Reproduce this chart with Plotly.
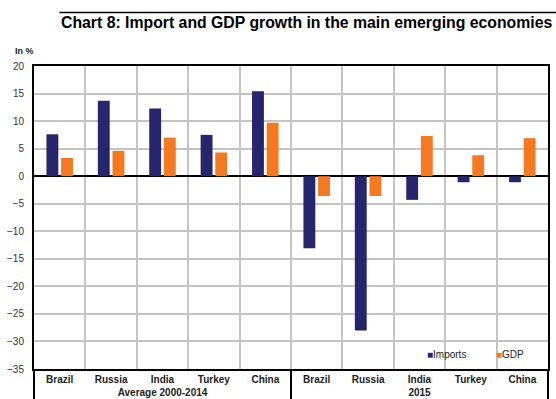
import plotly.graph_objects as go

# Period groups and economies on the category axis
periods = ["Average 2000-2014"] * 5 + ["2015"] * 5
countries = ["Brazil", "Russia", "India", "Turkey", "China"] * 2

# Growth rates, in %
imports = [7.6, 13.7, 12.3, 7.5, 15.4, -13.1, -28.0, -4.3, -1.1, -1.1]
gdp = [3.3, 4.6, 7.0, 4.3, 9.7, -3.6, -3.6, 7.3, 3.8, 6.9]

NAVY = "#25266E"
ORANGE = "#F47920"
FONT = "Liberation Sans, Arial, sans-serif"

x = [[f"<b>{p}</b>" for p in periods], [f"<b>{c}</b>" for c in countries]]

fig = go.Figure()
fig.add_trace(go.Bar(x=x, y=imports, name="Imports", marker_color=NAVY,
                     marker_line_width=0))
fig.add_trace(go.Bar(x=x, y=gdp, name="GDP", marker_color=ORANGE,
                     marker_line_width=0))

W, H = 556, 399
L, R, T, B = 33.5, 8, 65.5, 30
pw = W - L - R
ph = H - T - B


def px_x(p):
    return (p - L) / pw


def px_y(p):
    return (H - B - p) / ph


fig.update_layout(
    width=W, height=H,
    margin=dict(l=L, r=R, t=T, b=B, pad=0, autoexpand=False),
    paper_bgcolor="white", plot_bgcolor="white",
    font=dict(family=FONT, size=10, color="#222"),
    barmode="group", bargap=0.43, bargroupgap=0.19,
    showlegend=False,
)

fig.update_xaxes(
    type="multicategory", automargin=False,
    showgrid=True, gridcolor="#c4c4c4", gridwidth=1.5,
    tickson="boundaries", ticks="",
    showline=True, linecolor="black", linewidth=2, mirror=True,
    showdividers=True, dividercolor="black", dividerwidth=1.5,
    tickfont=dict(family=FONT, size=10, color="#222"),
)
fig.update_yaxes(
    range=[-35, 20], dtick=5, tick0=0, automargin=False,
    showgrid=True, gridcolor="#c4c4c4", gridwidth=1.5,
    showline=True, linecolor="black", linewidth=2, mirror=True,
    zeroline=True, zerolinecolor="black", zerolinewidth=1.5,
    ticks="", ticklabelstandoff=6,
    tickfont=dict(family=FONT, size=10, color="#333"),
)

# Title with a rule above it
fig.add_annotation(
    text="<b>Chart 8: Import and GDP growth in the main emerging economies</b>",
    xref="paper", yref="paper", x=px_x(59), y=px_y(22),
    xanchor="left", yanchor="middle", showarrow=False,
    font=dict(family=FONT, size=15.8, color="black"),
)
fig.add_shape(type="line", xref="paper", yref="paper",
              x0=px_x(59), x1=px_x(556), y0=px_y(12), y1=px_y(12),
              line=dict(color="black", width=1.5))

# Unit label
fig.add_annotation(
    text="<b>In %</b>", xref="paper", yref="paper",
    x=px_x(12), y=px_y(50), xanchor="left", yanchor="middle",
    showarrow=False, font=dict(family=FONT, size=9, color="#222"),
)

# Legend keys
fig.add_annotation(
    text=f"<span style='color:{NAVY}'>■</span>Imports", xref="paper", yref="paper",
    x=px_x(425), y=px_y(354), xanchor="left", yanchor="middle",
    showarrow=False, font=dict(family=FONT, size=10, color="#222"),
)
fig.add_annotation(
    text=f"<span style='color:{ORANGE}'>■</span>GDP", xref="paper", yref="paper",
    x=px_x(494), y=px_y(354), xanchor="left", yanchor="middle",
    showarrow=False, font=dict(family=FONT, size=10, color="#222"),
)

fig.write_html("out.html")
